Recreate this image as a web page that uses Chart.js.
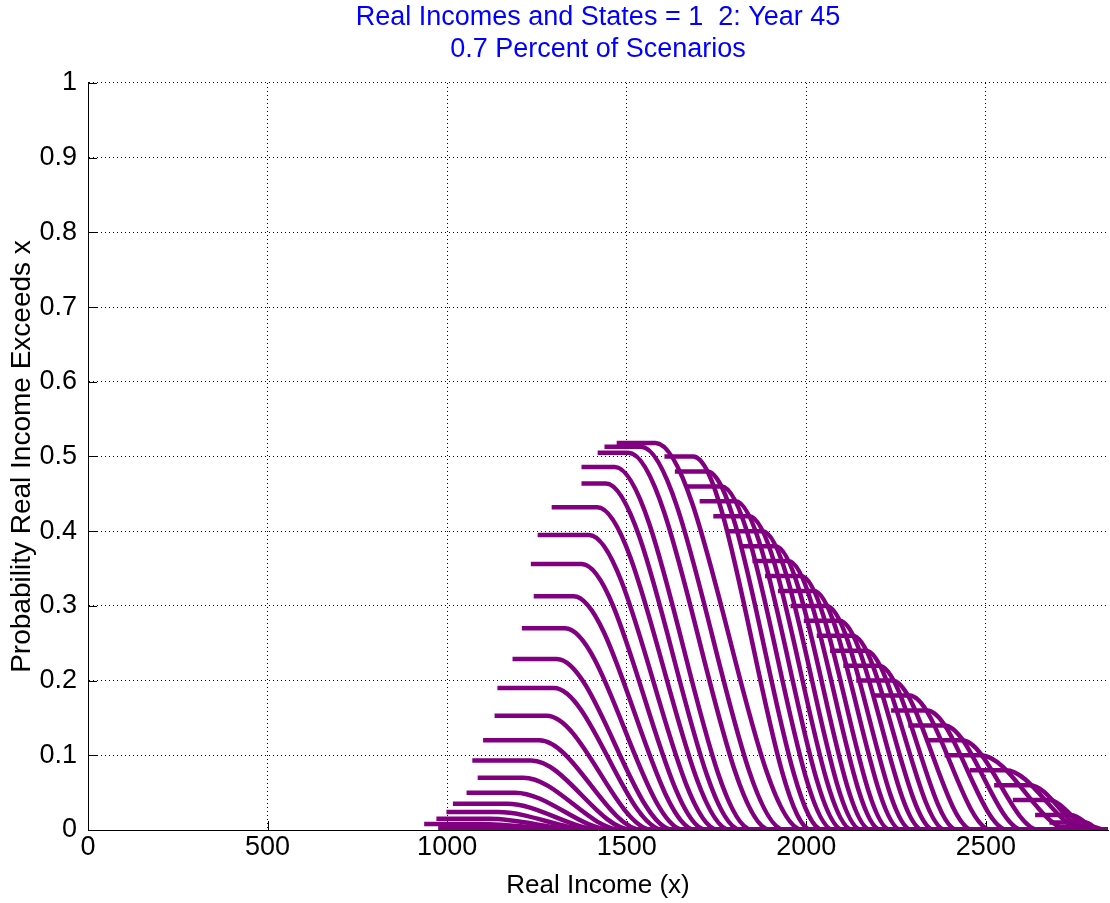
<!DOCTYPE html>
<html>
<head>
<meta charset="utf-8">
<script src="https://cdn.jsdelivr.net/npm/chart.js@4.4.0/dist/chart.umd.min.js"></script>
<style>
  html, body { margin: 0; padding: 0; background: #fff; }
</style>
</head>
<body>
<canvas id="chart" width="1110" height="903"></canvas>
<script>
// axis ticks
const xTickValues = [0, 500, 1000, 1500, 2000, 2500]
const yTickValues = [0, 0.1, 0.2, 0.3, 0.4, 0.5, 0.6, 0.7, 0.8, 0.9, 1]
const xMax = 2840

// left group of curves (level rises as start moves right)
const leftLevels = [0.003, 0.008, 0.015, 0.024, 0.035, 0.050, 0.070, 0.093, 0.120, 0.153, 0.190,
  0.229, 0.270, 0.313, 0.356, 0.395, 0.432, 0.464, 0.486, 0.505, 0.513, 0.518]
const leftStart = [975, 936, 970, 998, 1016, 1054, 1085, 1070, 1100, 1132, 1140,
  1182, 1208, 1241, 1233, 1252, 1291, 1374, 1374, 1419, 1438, 1472]
const leftKnee = [1070, 1094, 1118, 1142, 1166, 1189, 1212, 1234, 1256, 1277, 1297,
  1305, 1328, 1352, 1375, 1395, 1418, 1442, 1467, 1505, 1540, 1580]
const leftEnd = [1330, 1356, 1382, 1408, 1434, 1461, 1488, 1516, 1544, 1573, 1603,
  1630, 1660, 1692, 1722, 1755, 1788, 1818, 1850, 1900, 1940, 1990]

// right group (level falls along the outer edge)
const rightLevels = [0.50, 0.48, 0.46, 0.44, 0.42, 0.40, 0.38, 0.36, 0.34, 0.32, 0.30, 0.28, 0.26, 0.24,
  0.22, 0.20, 0.18, 0.16, 0.14, 0.12, 0.10, 0.08, 0.06, 0.04, 0.02, 0.01, 0.004]
const rightStart = [1605, 1634, 1664, 1703, 1741, 1778, 1814, 1850, 1885, 1921, 1956, 1993, 2029, 2066,
  2103, 2139, 2187, 2236, 2284, 2333, 2385, 2455, 2523, 2575, 2637, 2677, 2701]
const rightKnee = [1685, 1724, 1764, 1803, 1841, 1878, 1914, 1950, 1985, 2021, 2056, 2093, 2129, 2166,
  2203, 2239, 2287, 2336, 2384, 2433, 2485, 2555, 2623, 2675, 2737, 2777, 2801]
const rightEnd = [2015, 2046, 2076, 2103, 2129, 2154, 2180, 2208, 2235, 2265, 2294, 2325, 2356, 2388,
  2421, 2464, 2515, 2561, 2604, 2648, 2735, 2775, 2783, 2799, 2817, 2819, 2831]

const levels = leftLevels.concat(rightLevels)
const startX = leftStart.concat(rightStart)
const kneeX = leftKnee.concat(rightKnee)
const endX = leftEnd.concat(rightEnd)

const purple = '#800080'
Chart.defaults.font.family = '"Liberation Sans", Arial, Helvetica, sans-serif'
Chart.defaults.color = '#000'

const datasets = levels.map((lv, i) => ({
  data: [
    {x: startX[i], y: lv},
    {x: kneeX[i], y: lv},
    {x: endX[i], y: 0},
    {x: xMax, y: 0},
  ],
  borderColor: purple,
  borderWidth: 4.5,
  pointRadius: 0,
  fill: false,
  cubicInterpolationMode: 'monotone',
}))

// MATLAB style ticks pointing into the plot
const inwardTicks = {
  id: 'inwardTicks',
  beforeDatasetsDraw(chart){
    const {ctx, chartArea: a, scales: {x, y}} = chart
    ctx.save()
    ctx.strokeStyle = '#000'
    ctx.lineWidth = 1
    ctx.beginPath()
    x.ticks.forEach(t => {
      const px = Math.round(x.getPixelForValue(t.value)) + 0.5
      ctx.moveTo(px, a.bottom)
      ctx.lineTo(px, a.bottom - 9)
    })
    y.ticks.forEach(t => {
      const py = Math.round(y.getPixelForValue(t.value)) + 0.5
      ctx.moveTo(a.left, py)
      ctx.lineTo(a.left + 9, py)
    })
    ctx.stroke()
    ctx.restore()
  }
}

const gridOpts = {color: '#000', lineWidth: 1, drawTicks: false}
const borderOpts = {display: true, color: '#000', width: 1, dash: [1, 3]}

new Chart(document.getElementById('chart'), {
  type: 'line',
  data: {datasets},
  options: {
    responsive: false,
    devicePixelRatio: 1,
    animation: false,
    parsing: false,
    layout: {padding: {right: 2}},
    plugins: {
      legend: {display: false},
      tooltip: {enabled: false},
      title: {
        display: true,
        fullSize: false,
        text: ['Real Incomes and States = 1  2: Year 45', '0.7 Percent of Scenarios'],
        color: '#0000ff',
        font: {size: 27, weight: 'normal', lineHeight: 1.185},
        padding: {top: 2, bottom: 17},
      },
    },
    scales: {
      x: {
        type: 'linear',
        min: 0,
        max: xMax,
        afterBuildTicks: s => { s.ticks = xTickValues.map(v => ({value: v})) },
        afterFit: s => { s.height = 73 },
        ticks: {font: {size: 27}, padding: 1, maxRotation: 0, autoSkip: false, callback: v => String(v)},
        grid: gridOpts,
        border: borderOpts,
        title: {display: true, text: 'Real Income (x)', font: {size: 26}, padding: {top: 0, bottom: 2}},
      },
      y: {
        type: 'linear',
        min: 0,
        max: 1,
        afterBuildTicks: s => { s.ticks = yTickValues.map(v => ({value: v})) },
        afterFit: s => { s.width = 88 },
        ticks: {font: {size: 27}, padding: 11, autoSkip: false, callback: v => String(v)},
        grid: gridOpts,
        border: borderOpts,
        title: {display: true, text: 'Probability Real Income Exceeds x', font: {size: 28}, padding: {top: 5, bottom: 0}},
      },
    },
  },
  plugins: [inwardTicks],
})
</script>
</body>
</html>
